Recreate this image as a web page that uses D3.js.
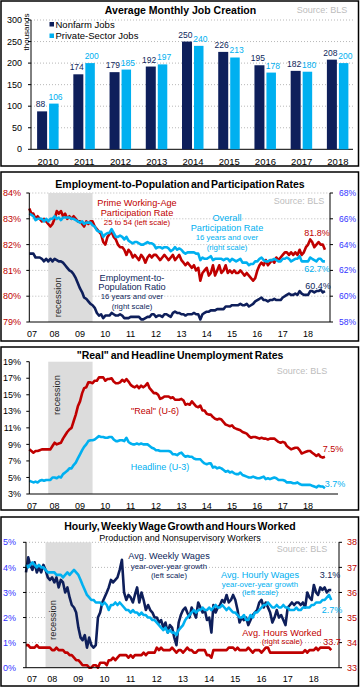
<!DOCTYPE html>
<html>
<head>
<meta charset="utf-8">
<script src="https://cdn.jsdelivr.net/npm/d3@7"></script>
<style>
body { margin: 0; background: #fff; }
svg text { font-family: "Liberation Sans", Arial, sans-serif; }
</style>
</head>
<body>
<div id="chart"></div>
<script>
// ---- data ----
var jobYears = ["2010", "2011", "2012", "2013", "2014", "2015", "2016", "2017", "2018"];
var nonfarmJobs = [88, 174, 179, 192, 250, 226, 195, 182, 208];
var privateJobs = [106, 200, 185, 197, 240, 213, 178, 180, 200];

// monthly series, Jan 2007 .. Sep 2018
var primeAgeRate = [
    83.4, 83.2, 83.2, 83.0, 83.1, 83.0, 82.9, 83.0, 82.9, 82.8, 82.7, 82.8,
    83.0, 83.3, 83.2, 83.3, 83.1, 83.2, 83.0, 83.1, 83.0, 83.1, 83.0, 82.9,
    82.9, 82.8, 82.7, 82.9, 82.8, 82.9, 82.9, 82.7, 82.6, 82.5, 82.4, 82.1,
    82.0, 82.3, 82.4, 82.5, 82.3, 82.2, 82.0, 81.9, 81.9, 81.8, 81.6, 81.8,
    81.7, 81.5, 81.6, 81.5, 81.4, 81.6, 81.5, 81.3, 81.5, 81.6, 81.5, 81.6,
    81.6, 81.5, 81.4, 81.5, 81.6, 81.5, 81.4, 81.5, 81.6, 81.4, 81.5, 81.6,
    81.4, 81.3, 81.2, 81.3, 81.2, 81.1, 81.2, 81.0, 81.1, 80.6, 80.9, 81.0,
    81.1, 80.8, 80.9, 81.2, 80.8, 81.0, 81.2, 80.9, 81.0, 81.2, 80.9, 81.0,
    80.9, 81.0, 80.9, 80.9, 81.0, 80.9, 80.8, 80.9, 80.8, 80.7, 80.6, 80.7,
    81.0, 81.2, 81.3, 81.2, 81.4, 81.2, 81.3, 81.4, 81.3, 81.5, 81.4, 81.5,
    81.6, 81.7, 81.7, 81.6, 81.7, 81.6, 81.7, 81.6, 81.8, 81.6, 81.7, 81.9,
    82.0, 82.2, 82.1, 81.9, 82.0, 82.1, 82.0, 82.0, 81.8];
var overallRate = [
    66.4, 66.3, 66.2, 65.9, 66.0, 66.0, 66.0, 65.8, 66.0, 65.8, 66.0, 66.0,
    66.2, 66.0, 66.1, 65.9, 66.1, 66.1, 66.1, 66.1, 66.0, 66.0, 65.9, 65.8,
    65.7, 65.8, 65.6, 65.7, 65.7, 65.7, 65.5, 65.4, 65.1, 65.0, 65.0, 64.6,
    64.8, 64.9, 64.9, 65.2, 64.9, 64.6, 64.6, 64.7, 64.6, 64.4, 64.6, 64.3,
    64.2, 64.1, 64.2, 64.2, 64.1, 64.0, 64.0, 64.1, 64.2, 64.1, 64.1, 64.0,
    63.7, 63.8, 63.8, 63.7, 63.8, 63.8, 63.7, 63.5, 63.6, 63.8, 63.6, 63.7,
    63.6, 63.4, 63.3, 63.4, 63.4, 63.4, 63.4, 63.3, 63.3, 62.8, 63.0, 62.9,
    62.9, 63.0, 63.1, 62.8, 62.9, 62.9, 62.9, 62.9, 62.8, 62.9, 62.9, 62.7,
    62.9, 62.8, 62.7, 62.8, 62.9, 62.6, 62.6, 62.6, 62.4, 62.5, 62.5, 62.7,
    62.7, 62.9, 63.0, 62.8, 62.7, 62.7, 62.8, 62.8, 62.9, 62.8, 62.7, 62.7,
    62.9, 62.9, 63.0, 62.9, 62.7, 62.8, 62.9, 62.9, 63.1, 62.7, 62.7, 62.7,
    62.7, 63.0, 62.9, 62.8, 62.7, 62.9, 62.9, 62.7, 62.7];
var empPopRatio = [
    63.3, 63.3, 63.3, 63.0, 63.0, 63.0, 62.9, 62.7, 62.9, 62.7, 62.9, 62.7,
    62.9, 62.8, 62.7, 62.7, 62.6, 62.4, 62.2, 62.0, 61.9, 61.7, 61.4, 61.0,
    60.6, 60.3, 59.9, 59.8, 59.6, 59.4, 59.3, 59.1, 58.7, 58.5, 58.6, 58.3,
    58.5, 58.5, 58.5, 58.7, 58.6, 58.5, 58.5, 58.6, 58.5, 58.3, 58.3, 58.3,
    58.4, 58.4, 58.4, 58.4, 58.4, 58.2, 58.2, 58.3, 58.4, 58.4, 58.6, 58.6,
    58.4, 58.5, 58.5, 58.4, 58.6, 58.6, 58.5, 58.4, 58.7, 58.8, 58.7, 58.7,
    58.6, 58.6, 58.5, 58.6, 58.6, 58.6, 58.7, 58.6, 58.6, 58.2, 58.6, 58.7,
    58.8, 58.8, 58.9, 58.9, 58.9, 59.0, 59.0, 59.0, 59.0, 59.2, 59.2, 59.2,
    59.3, 59.3, 59.3, 59.3, 59.4, 59.3, 59.3, 59.4, 59.2, 59.3, 59.4, 59.6,
    59.7, 59.8, 59.9, 59.7, 59.7, 59.6, 59.7, 59.7, 59.8, 59.7, 59.7, 59.7,
    59.9, 60.0, 60.1, 60.2, 60.1, 60.1, 60.2, 60.1, 60.4, 60.2, 60.1, 60.1,
    60.1, 60.4, 60.4, 60.3, 60.4, 60.4, 60.5, 60.3, 60.4];
var u6Rate = [
    8.4, 8.2, 8.0, 8.2, 8.2, 8.3, 8.4, 8.4, 8.4, 8.4, 8.4, 8.8,
    9.2, 9.0, 9.1, 9.2, 9.7, 10.1, 10.5, 10.8, 11.0, 11.8, 12.6, 13.6,
    14.2, 15.2, 15.8, 15.9, 16.5, 16.5, 16.4, 16.7, 16.7, 17.1, 17.1, 17.1,
    16.7, 16.9, 16.9, 17.0, 16.6, 16.4, 16.4, 16.5, 16.8, 16.6, 16.9, 16.6,
    16.2, 16.0, 15.9, 16.1, 15.8, 16.1, 15.9, 16.1, 16.4, 15.8, 15.5, 15.2,
    15.2, 15.0, 14.5, 14.6, 14.8, 14.8, 14.8, 14.6, 14.7, 14.4, 14.4, 14.4,
    14.5, 14.3, 13.8, 13.9, 13.8, 14.2, 13.9, 13.6, 13.5, 13.7, 13.1, 13.1,
    12.7, 12.6, 12.6, 12.3, 12.1, 12.0, 12.1, 12.0, 11.7, 11.4, 11.3, 11.2,
    11.3, 11.0, 10.9, 10.8, 10.7, 10.5, 10.4, 10.3, 10.0, 9.8, 9.9, 9.9,
    9.8, 9.7, 9.8, 9.7, 9.7, 9.6, 9.7, 9.7, 9.7, 9.5, 9.3, 9.2,
    9.3, 9.2, 8.8, 8.6, 8.4, 8.5, 8.6, 8.6, 8.3, 7.9, 8.0, 8.1,
    8.2, 8.2, 8.0, 7.8, 7.6, 7.8, 7.5, 7.4, 7.5];
var u3Rate = [
    4.6, 4.5, 4.4, 4.5, 4.4, 4.6, 4.7, 4.6, 4.7, 4.7, 4.7, 5.0,
    5.0, 4.9, 5.1, 5.0, 5.4, 5.6, 5.8, 6.1, 6.1, 6.5, 6.8, 7.3,
    7.8, 8.3, 8.7, 9.0, 9.4, 9.5, 9.5, 9.6, 9.8, 10.0, 9.9, 9.9,
    9.8, 9.8, 9.9, 9.9, 9.6, 9.4, 9.4, 9.5, 9.5, 9.4, 9.8, 9.3,
    9.1, 9.0, 9.0, 9.1, 9.0, 9.1, 9.0, 9.0, 9.0, 8.8, 8.6, 8.5,
    8.3, 8.3, 8.2, 8.2, 8.2, 8.2, 8.2, 8.1, 7.8, 7.8, 7.7, 7.9,
    8.0, 7.7, 7.5, 7.6, 7.5, 7.5, 7.3, 7.2, 7.2, 7.2, 6.9, 6.7,
    6.6, 6.7, 6.7, 6.2, 6.3, 6.1, 6.2, 6.1, 5.9, 5.7, 5.8, 5.6,
    5.7, 5.5, 5.4, 5.4, 5.6, 5.3, 5.2, 5.1, 5.0, 5.0, 5.1, 5.0,
    4.9, 4.9, 5.0, 5.1, 4.8, 4.9, 4.8, 4.9, 5.0, 4.9, 4.7, 4.7,
    4.7, 4.6, 4.4, 4.4, 4.4, 4.3, 4.3, 4.4, 4.2, 4.1, 4.1, 4.1,
    4.1, 4.1, 4.0, 3.9, 3.8, 4.0, 3.9, 3.9, 3.7];
var weeklyWageGrowth = [
    3.8, 4.4, 4.1, 3.9, 4.2, 3.8, 4.0, 3.8, 4.1, 3.9, 3.6, 3.5,
    3.6, 3.4, 3.6, 3.2, 3.5, 3.4, 3.0, 3.2, 2.8, 2.5, 2.4, 2.2,
    1.6, 1.2, 1.1, 1.3, 0.8, 1.2, 0.9, 0.8, 0.9, 2.0, 2.2, 2.6,
    2.8, 3.0, 3.2, 3.5, 3.4, 3.5, 3.6, 3.9, 4.3, 3.0, 2.7, 2.9,
    2.8, 2.6, 2.9, 3.2, 2.6, 3.0, 2.7, 2.3, 2.5, 2.3, 2.2, 2.0,
    2.0, 1.8, 1.9, 1.6, 1.8, 1.4, 1.7, 1.6, 1.2, 0.9, 1.8, 2.1,
    2.3, 2.4, 2.2, 2.0, 2.4, 2.2, 2.0, 2.6, 2.4, 2.2, 2.3, 1.9,
    2.0, 1.4, 2.5, 2.2, 2.4, 2.5, 2.7, 2.6, 2.9, 2.6, 2.7, 2.9,
    2.7, 2.3, 1.8, 2.0, 1.9, 2.0, 1.7, 1.9, 2.1, 2.2, 2.3, 2.6,
    2.7, 2.4, 2.6, 2.4, 2.2, 1.8, 2.0, 2.3, 2.0, 2.1, 1.9, 1.7,
    2.4, 2.5, 2.6, 2.5, 2.6, 2.6, 2.5, 2.6, 2.4, 3.0, 2.8, 2.7,
    3.3, 3.0, 2.9, 3.2, 3.1, 3.2, 3.0, 3.1, 3.1];
var hourlyWageGrowth = [
    4.1, 4.0, 4.1, 4.2, 4.1, 4.0, 4.1, 4.0, 4.0, 3.9, 3.8, 3.8,
    3.8, 3.8, 3.7, 3.7, 3.7, 3.6, 3.7, 3.8, 3.7, 3.8, 3.9, 3.8,
    3.7, 3.5, 3.3, 3.1, 2.9, 2.8, 2.7, 2.7, 2.6, 2.6, 2.6, 2.5,
    2.6, 2.5, 2.3, 2.5, 2.5, 2.6, 2.5, 2.6, 2.5, 2.4, 2.3, 2.3,
    2.2, 2.3, 2.2, 2.2, 2.1, 2.2, 2.1, 2.1, 2.0, 2.0, 1.9, 1.9,
    1.8, 1.7, 1.6, 1.5, 1.6, 1.4, 1.5, 1.4, 1.4, 1.3, 1.5, 1.6,
    1.7, 1.9, 2.0, 2.1, 2.2, 2.3, 2.2, 2.3, 2.3, 2.4, 2.3, 2.3,
    2.4, 2.3, 2.4, 2.5, 2.4, 2.4, 2.5, 2.4, 2.3, 2.4, 2.3, 2.2,
    2.2, 2.1, 2.0, 2.0, 2.1, 1.9, 1.9, 2.1, 2.0, 2.2, 2.2, 2.3,
    2.4, 2.5, 2.5, 2.6, 2.5, 2.4, 2.4, 2.5, 2.4, 2.4, 2.5, 2.4,
    2.4, 2.3, 2.3, 2.3, 2.4, 2.3, 2.3, 2.4, 2.4, 2.4, 2.4, 2.5,
    2.5, 2.6, 2.6, 2.6, 2.7, 2.7, 2.8, 2.9, 2.7];
var hoursWorked = [
    33.9, 33.9, 33.8, 33.8, 33.8, 33.9, 33.8, 33.8, 33.8, 33.8, 33.8, 33.8,
    33.7, 33.7, 33.8, 33.7, 33.7, 33.7, 33.6, 33.6, 33.5, 33.5, 33.4, 33.3,
    33.3, 33.2, 33.1, 33.1, 33.1, 33.0, 33.0, 33.1, 33.1, 33.0, 33.2, 33.2,
    33.2, 33.1, 33.3, 33.3, 33.4, 33.3, 33.4, 33.5, 33.5, 33.5, 33.5, 33.4,
    33.5, 33.4, 33.5, 33.5, 33.5, 33.5, 33.6, 33.5, 33.6, 33.6, 33.6, 33.6,
    33.8, 33.7, 33.8, 33.7, 33.7, 33.7, 33.7, 33.8, 33.7, 33.6, 33.7, 33.7,
    33.6, 33.7, 33.8, 33.7, 33.7, 33.6, 33.6, 33.7, 33.7, 33.7, 33.7, 33.5,
    33.5, 33.4, 33.7, 33.7, 33.7, 33.7, 33.7, 33.7, 33.7, 33.8, 33.8, 33.8,
    33.7, 33.8, 33.7, 33.7, 33.7, 33.7, 33.8, 33.7, 33.6, 33.7, 33.7, 33.7,
    33.6, 33.7, 33.8, 33.8, 33.6, 33.6, 33.6, 33.6, 33.6, 33.6, 33.6, 33.6,
    33.6, 33.6, 33.6, 33.6, 33.6, 33.6, 33.6, 33.6, 33.7, 33.6, 33.7, 33.7,
    33.7, 33.8, 33.7, 33.8, 33.8, 33.8, 33.8, 33.8, 33.7];

var recession = ["2007-10-01", "2009-07-01"];
var yearLabels = ["07", "08", "09", "10", "11", "12", "13", "14", "15", "16", "17", "18"];

var navy = "#0e1f5b", sky = "#00b0f0", red = "#c00000", axisBlue = "#3333ff";
var gridGray = "#b8b8b8", shadeGray = "#dcdcdc", sourceGray = "#bdbdbd";

// ---- helpers ----
var svg = d3.select("#chart").append("svg").attr("width", 361).attr("height", 687);
var parseDay = d3.timeParse("%Y-%m-%d");
var monthDates = d3.range(primeAgeRate.length).map(function(i){ return new Date(2007, i, 1); });
var yearDates = yearLabels.map(function(d){ return new Date(2000 + (+d), 0, 1); });
var recDates = recession.map(parseDay);

function frame(y0, y1){
    svg.append("rect").attr("x", 1).attr("y", y0).attr("width", 357.5).attr("height", y1 - y0)
        .attr("fill", "none").attr("stroke", "#000").attr("stroke-width", 1.5);
}

function label(x, y, str, size, color, opts){
    opts = opts || {};
    return svg.append("text").attr("x", x).attr("y", y).attr("dy", "0.35em")
        .attr("text-anchor", opts.anchor || "middle")
        .attr("fill", color)
        .style("font-size", size + "px")
        .style("font-weight", opts.bold ? "bold" : "normal")
        .style("word-spacing", opts.ws || "0px")
        .text(str);
}

function grid(scale, ticks, x0, x1){
    svg.append("g").selectAll("line").data(ticks).enter().append("line")
        .attr("x1", x0).attr("x2", x1)
        .attr("y1", function(d){ return scale(d); }).attr("y2", function(d){ return scale(d); })
        .attr("stroke", gridGray).attr("stroke-width", 1).attr("stroke-dasharray", "1,2");
}

function vAxis(scale, ticks, x, side, labelX, anchor, color, size, fmt){
    var r = scale.range();
    svg.append("line").attr("x1", x).attr("x2", x).attr("y1", r[0]).attr("y2", r[1])
        .attr("stroke", "#000").attr("stroke-width", 1);
    var g = svg.append("g");
    g.selectAll("line").data(ticks).enter().append("line")
        .attr("x1", x).attr("x2", x + side * 3)
        .attr("y1", function(d){ return scale(d); }).attr("y2", function(d){ return scale(d); })
        .attr("stroke", "#000");
    g.selectAll("text").data(ticks).enter().append("text")
        .attr("x", labelX).attr("y", function(d){ return scale(d); }).attr("dy", "0.35em")
        .attr("text-anchor", anchor).attr("fill", color).style("font-size", size + "px")
        .text(fmt);
}

function hAxis(x, y, x1, labelY){
    svg.append("line").attr("x1", x.range()[0]).attr("x2", x1).attr("y1", y).attr("y2", y)
        .attr("stroke", "#000").attr("stroke-width", 1);
    svg.append("g").selectAll("text").data(yearDates).enter().append("text")
        .attr("x", function(d, i){ return i == 0 ? Math.max(x(d), 32) : x(d); })
        .attr("y", labelY).attr("dy", "0.35em")
        .attr("text-anchor", "middle").attr("fill", "#000").style("font-size", "9px")
        .text(function(d, i){ return yearLabels[i]; });
}

function shade(x, y){
    var r = y.range();
    svg.append("rect").attr("x", x(recDates[0])).attr("width", x(recDates[1]) - x(recDates[0]))
        .attr("y", r[1]).attr("height", r[0] - r[1]).attr("fill", shadeGray);
}

function series(values, x, y, color, w){
    var line = d3.line()
        .x(function(d, i){ return x(monthDates[i]); })
        .y(function(d){ return y(d); });
    svg.append("path").datum(values).attr("d", line)
        .attr("fill", "none").attr("stroke", color).attr("stroke-width", w || 2.6)
        .attr("stroke-linejoin", "round");
}

function pct(d){ return d + "%"; }

// ---- panel 1: monthly job creation ----
frame(1, 166);
var x1 = d3.scaleBand().domain(jobYears).range([30, 356]);
var y1 = d3.scaleLinear().domain([0, 300]).range([149.3, 20]);
grid(y1, [50, 100, 150, 200, 250, 300], 31, 353);
vAxis(y1, [0, 50, 100, 150, 200, 250, 300], 31, -1, 22, "end", "#000", 9, function(d){ return d; });
svg.append("line").attr("x1", 31).attr("x2", 353).attr("y1", y1(0)).attr("y2", y1(0)).attr("stroke", "#000");

function mid(i){ return x1(jobYears[i]) + x1.bandwidth() / 2; }
var bars = svg.append("g");
bars.selectAll(".nf").data(nonfarmJobs).enter().append("rect")
    .attr("x", function(d, i){ return mid(i) - 11; })
    .attr("y", function(d){ return y1(d); })
    .attr("width", 10).attr("height", function(d){ return y1(0) - y1(d); })
    .attr("fill", navy);
bars.selectAll(".pv").data(privateJobs).enter().append("rect")
    .attr("x", function(d, i){ return mid(i) + 1; })
    .attr("y", function(d){ return y1(d); })
    .attr("width", 9.5).attr("height", function(d){ return y1(0) - y1(d); })
    .attr("fill", sky);
// value labels pushed slightly apart so neighbours don't collide
bars.selectAll(".nft").data(nonfarmJobs).enter().append("text")
    .attr("x", function(d, i){ return mid(i) - 7.6; })
    .attr("y", function(d){ return y1(d) - 7; }).attr("dy", "0.35em")
    .attr("text-anchor", "middle").attr("fill", navy).style("font-size", "8.5px")
    .text(function(d){ return d; });
bars.selectAll(".pvt").data(privateJobs).enter().append("text")
    .attr("x", function(d, i){ return mid(i) + 7.4; })
    .attr("y", function(d){ return y1(d) - 7; }).attr("dy", "0.35em")
    .attr("text-anchor", "middle").attr("fill", sky).style("font-size", "8.5px")
    .text(function(d){ return d; });
svg.append("g").selectAll("text").data(jobYears).enter().append("text")
    .attr("x", function(d, i){ return mid(i); })
    .attr("y", 162).attr("dy", "0.35em").attr("text-anchor", "middle")
    .style("font-size", "9.5px").text(function(d){ return d; });

label(180.5, 10, "Average Monthly Job Creation", 10.5, "#000", {bold: true});
label(322, 10, "Source: BLS", 9, sourceGray);
svg.append("text").attr("transform", "translate(26.5,32) rotate(-90)").attr("dy", "0.35em")
    .attr("text-anchor", "middle").style("font-size", "8px").text("thousands");
svg.append("rect").attr("x", 49.5).attr("y", 22).attr("width", 4.5).attr("height", 4.5).attr("fill", navy);
svg.append("rect").attr("x", 49.5).attr("y", 33.5).attr("width", 4.5).attr("height", 4.5).attr("fill", sky);
label(55.5, 24.3, "Nonfarm Jobs", 9.5, "#000", {anchor: "start"});
label(55.5, 35.7, "Private-Sector Jobs", 9.5, "#000", {anchor: "start"});

// ---- panel 2: employment-to-population and participation ----
frame(172, 341);
var x2 = d3.scaleTime().domain([new Date(2007, 0, 1), new Date(2018, 10, 13)]).range([29.3, 330]);
var y2L = d3.scaleLinear().domain([79, 84]).range([322, 193]);
var y2R = d3.scaleLinear().domain([58, 68]).range([322, 193]);
grid(y2L, [80, 81, 82, 83, 84], 29.3, 330);
shade(x2, y2L);
series(primeAgeRate, x2, y2L, red);
series(overallRate, x2, y2R, sky);
series(empPopRatio, x2, y2R, navy);
vAxis(y2L, [79, 80, 81, 82, 83, 84], 29.3, -1, 21, "end", red, 9, pct);
vAxis(y2R, [58, 60, 62, 64, 66, 68], 330, 1, 339, "start", axisBlue, 8.5, pct);
hAxis(x2, 322, 330, 334);

label(180, 184, "Employment-to-Population and Participation Rates", 10.5, "#000", {bold: true, ws: "-1.5px"});
label(299, 200.7, "Source: BLS", 9, sourceGray);
svg.append("text").attr("transform", "translate(57.3,297.3) rotate(-90)").attr("dy", "0.35em")
    .attr("text-anchor", "middle").attr("fill", "#262626").style("font-size", "9.3px").text("recession");
label(137, 202.3, "Prime Working-Age", 9.2, red);
label(137, 212.3, "Participation Rate", 9.2, red);
label(137, 222.3, "25 to 54 (left scale)", 7.8, red);
label(227, 217.7, "Overall", 9.2, sky);
label(227, 227.3, "Participation Rate", 9.2, sky);
label(227, 237.3, "16 years and over", 7.8, sky);
label(227, 247.3, "(right scale)", 7.8, sky);
label(132, 277.3, "Employment-to-", 9.2, navy);
label(132, 286.7, "Population Ratio", 9.2, navy);
label(132, 296.7, "16 years and over", 7.8, navy);
label(132, 306, "(right scale)", 7.8, navy);
label(317, 232.7, "81.8%", 9, red);
label(317, 269.3, "62.7%", 9, sky);
label(318, 285.7, "60.4%", 9, navy);

// ---- panel 3: real and headline unemployment ----
frame(347, 510);
var x3 = d3.scaleTime().domain([new Date(2007, 0, 1), new Date(2018, 10, 13)]).range([29.3, 330]);
var y3 = d3.scaleLinear().domain([3, 19]).range([494, 361.7]);
shade(x3, y3);
series(u6Rate, x3, y3, red);
series(u3Rate, x3, y3, sky);
vAxis(y3, [3, 5, 7, 9, 11, 13, 15, 17, 19], 29.3, -1, 21, "end", "#000", 9, pct);
hAxis(x3, 494, 338, 505.7);

label(180, 355, "\"Real\" and Headline Unemployment Rates", 10.5, "#000", {bold: true, ws: "-1px"});
label(302, 371, "Source: BLS", 9, sourceGray);
svg.append("text").attr("transform", "translate(57,395) rotate(-90)").attr("dy", "0.35em")
    .attr("text-anchor", "middle").attr("fill", "#262626").style("font-size", "9.3px").text("recession");
label(155, 411, "\"Real\" (U-6)", 9, red);
label(160, 467, "Headline (U-3)", 9, sky);
label(333, 449, "7.5%", 9, red);
label(335, 484, "3.7%", 9, sky);

// ---- panel 4: wage growth and hours ----
frame(517, 686);
var x4 = d3.scaleTime().domain([new Date(2007, 0, 1), new Date(2018, 11, 18)]).range([26, 339]);
var y4L = d3.scaleLinear().domain([0, 5]).range([667.7, 542.3]);
var y4R = d3.scaleLinear().domain([33, 38]).range([667.7, 542.3]);
grid(y4L, [1, 2, 3, 4, 5], 26, 339);
shade(x4, y4L);
series(weeklyWageGrowth, x4, y4L, navy);
series(hourlyWageGrowth, x4, y4L, sky);
series(hoursWorked, x4, y4R, red);
vAxis(y4L, [0, 1, 2, 3, 4, 5], 26, -1, 16, "end", axisBlue, 9, pct);
vAxis(y4R, [33, 34, 35, 36, 37, 38], 339, 1, 347, "start", red, 9, function(d){ return d; });
hAxis(x4, 667.7, 339, 679);

label(180, 526.7, "Hourly, Weekly Wage Growth and Hours Worked", 10.5, "#000", {bold: true, ws: "-1.5px"});
label(180, 538.3, "Production and Nonsupervisory Workers", 9, "#000");
label(302, 549, "Source: BLS", 9, sourceGray);
svg.append("text").attr("transform", "translate(52.7,620) rotate(-90)").attr("dy", "0.35em")
    .attr("text-anchor", "middle").attr("fill", "#262626").style("font-size", "9.3px").text("recession");
label(169, 556, "Avg. Weekly Wages", 9.2, navy);
label(169, 566, "year-over-year growth", 7.8, navy);
label(169, 575, "(left scale)", 7.8, navy);
label(260, 574.3, "Avg. Hourly Wages", 9.2, sky);
label(260, 584, "year-over-year growth", 7.8, sky);
label(260, 592.7, "(left scale)", 7.8, sky);
label(330, 575, "3.1%", 9, navy);
label(332, 610, "2.7%", 9, sky);
label(282, 632.3, "Avg. Hours Worked", 9.2, red);
label(282, 641.7, "(right scale)", 7.8, red);
label(332, 641.7, "33.7", 9, red);
</script>
</body>
</html>
